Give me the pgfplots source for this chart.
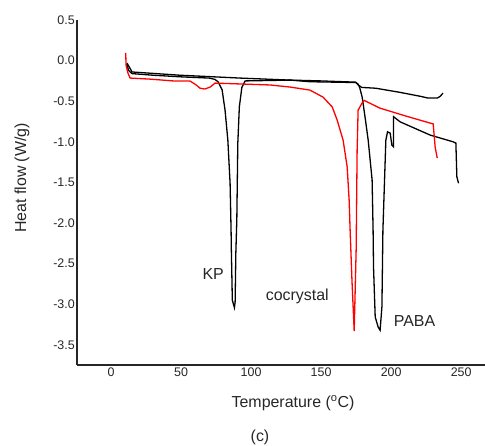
\documentclass[border=0pt]{standalone}
\usepackage{fontspec}
\setmainfont{Liberation Sans}
\usepackage{pgfplots}
\pgfplotsset{compat=1.18}
\begin{document}
\begin{tikzpicture}[x=1bp,y=1bp]
\path[use as bounding box] (-77,-81) rectangle (408,365);
\begin{axis}[
  at={(0,0)}, anchor=south west, scale only axis,
  width=408bp, height=345bp,
  xmin=-24.3, xmax=267, ymin=-3.747, ymax=0.5,
  axis x line*=bottom, axis y line*=left,
  axis line style={-, line width=1.3bp, black!85},
  xtick={0,50,100,150,200,250},
  ytick={-3.5,-3,-2.5,-2,-1.5,-1,-0.5,0,0.5},
  major tick length=0pt,
  tick label style={font=\fontsize{12.5}{13}\selectfont, text=black!85, /pgf/number format/assume math mode=true},
  yticklabel style={/pgf/number format/fixed, /pgf/number format/fixed zerofill, /pgf/number format/precision=1, inner sep=2bp},
  xticklabel style={inner sep=3bp},
  clip=false,
]
% KP
\addplot[black, line width=1.3bp] coordinates {
(11.2,-0.04) (12.5,-0.12) (15,-0.16) (30,-0.18) (50,-0.20) (70,-0.215) (74,-0.23)
(76.4,-0.26) (79.3,-0.36) (81.4,-0.61) (83.4,-0.98) (85,-1.51) (85.7,-2.09) (85.9,-2.33)
(86.6,-2.95) (88.1,-3.04) (88.6,-2.97) (89.1,-2.37) (89.8,-1.96) (90.5,-1.02) (91.6,-0.57)
(93.4,-0.33) (95.7,-0.25) (128,-0.24) (142,-0.26) (175,-0.27) (176.5,-0.30) (179,-0.33)
(189,-0.34) (206,-0.39) (221,-0.44) (226,-0.46) (233,-0.46) (235,-0.44) (237,-0.40)
};
% PABA
\addplot[black, line width=1.3bp] coordinates {
(11.4,-0.03) (15,-0.14) (49.3,-0.18) (92.1,-0.215) (127.9,-0.24) (150,-0.25) (174.3,-0.265)
(176.4,-0.29) (177.5,-0.33) (179.3,-0.45) (181.4,-0.70) (183.6,-0.98) (186.4,-1.47)
(187.1,-2.09) (187.4,-2.54) (188.6,-3.155) (190.7,-3.28) (192.1,-3.32) (193.4,-3.03)
(194.1,-2.09) (196.2,-0.98) (197.4,-0.877) (199.3,-0.893) (200.5,-1.04) (201.6,-1.06)
(201.7,-0.69) (206.4,-0.754) (227.9,-0.917) (244.3,-1.0) (246.2,-1.016) (246.9,-1.43) (248.1,-1.51)
};
% cocrystal
\addplot[red, line width=1.3bp] coordinates {
(10.5,0.096) (10.7,-0.055) (12.1,-0.154) (13.6,-0.215) (27.9,-0.228) (45.7,-0.252)
(56.4,-0.252) (60,-0.29) (63.6,-0.34) (67,-0.35) (70.7,-0.326) (74.3,-0.277)
(113.6,-0.30) (128,-0.326) (142,-0.363) (151.4,-0.45) (157.9,-0.57) (161.4,-0.73)
(165.7,-0.98) (168.6,-1.31) (170,-1.72) (170.7,-2.09) (172,-2.70) (173.6,-3.33)
(175,-2.33) (175.7,-1.10) (176.4,-0.61) (179.3,-0.52) (180.7,-0.49) (192,-0.585)
(210,-0.68) (228,-0.77) (230,-0.78) (231.4,-1.065) (232.9,-1.20)
};
\node[font=\fontsize{16}{16}\selectfont, text=black!85] at (axis cs:72.9,-2.63) {KP};
\node[font=\fontsize{16}{16}\selectfont, text=black!85] at (axis cs:133,-2.90) {cocrystal};
\node[font=\fontsize{16}{16}\selectfont, text=black!85] at (axis cs:216.7,-3.21) {PABA};
\end{axis}
\node[rotate=90, font=\fontsize{16}{16}\selectfont, text=black!85] at (-55,187) {Heat flow (W/g)};
\node[font=\fontsize{16}{16}\selectfont, text=black!85] at (216,-38) {Temperature (\textsuperscript{o}C)};
\node[font=\fontsize{16}{16}\selectfont, text=black!85] at (183,-72) {(c)};
\end{tikzpicture}
\end{document}
